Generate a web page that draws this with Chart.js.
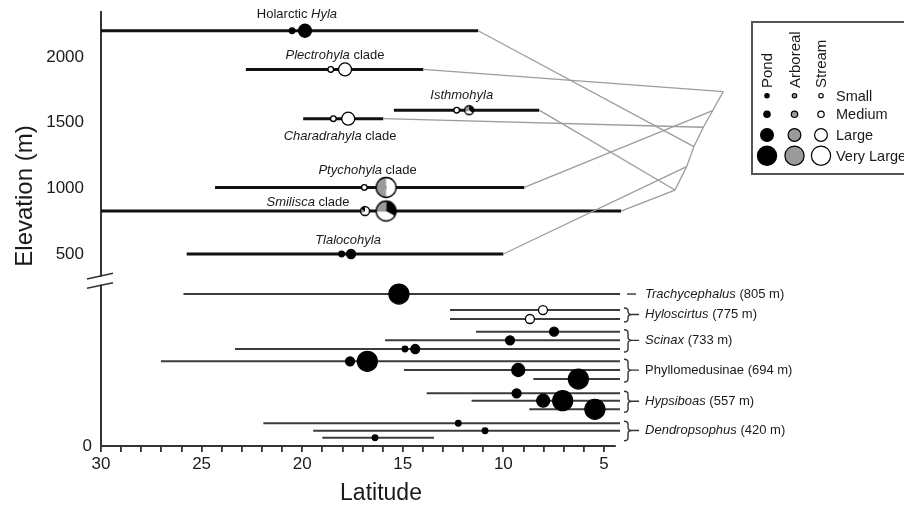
<!DOCTYPE html>
<html><head><meta charset="utf-8">
<script src="https://cdn.jsdelivr.net/npm/chart.js@4.4.1/dist/chart.umd.min.js"></script>
<style>html,body{margin:0;padding:0;background:#fff;}#wrap{width:904px;height:507px;}</style>
</head><body><div id="wrap"><canvas id="c" width="904" height="507"></canvas></div>
<script>
// ================= DATA =================
// Upper panel: clades (elevation scale)
const cladeNames = ['Holarctic *Hyla*', '*Plectrohyla* clade', '*Isthmohyla*', '*Charadrahyla* clade', '*Ptychohyla* clade', '*Smilisca* clade', '*Tlalocohyla*'];
const cladeElevation = [2200, 1905, 1595, 1530, 1007, 827, 500];
const cladeLatNorth = [30, 22.8, 15.44, 19.95, 24.33, 30, 25.74];
const cladeLatSouth = [11.25, 13.98, 8.22, 15.97, 8.96, 4.15, 10.0];
const cladeLabelLat = [20.26, 18.37, 12.07, 18.12, 16.75, 19.71, 17.72];

// Upper panel markers (clade index, latitude, habitat, size class)
const upperMarkerClade = [0, 0, 1, 1, 2, 2, 3, 3, 4, 4, 5, 5, 6, 6];
const upperMarkerLat = [20.5, 19.86, 18.58, 17.87, 12.32, 11.70, 18.45, 17.71, 16.91, 15.83, 16.88, 15.83, 18.04, 17.57];
const upperMarkerHabitat = ['pond', 'pond', 'stream', 'stream', 'stream', 'mixA', 'stream', 'stream', 'stream', 'mixB', 'mixC', 'mixD', 'pond', 'pond'];
const upperMarkerSize = ['S', 'L', 'S', 'L', 'S', 'M', 'S', 'L', 'S', 'VL', 'M', 'VL', 'S', 'M'];

// Connector fan: rank axis points (latitude, elevation units) and clade -> rank target
const rankAxisLat = [1.47, 0.89, 0.53, 0.06, -0.40, -0.93];
const rankAxisElev = [987, 1165, 1317, 1465, 1591, 1736];
const cladeRankTarget = [2, 5, 0, 3, 4, 0, 1];

// Lower panel: genera and their rows
const genusNames = ['*Trachycephalus* (805 m)', '*Hyloscirtus* (775 m)', '*Scinax* (733 m)', 'Phyllomedusinae (694 m)', '*Hypsiboas* (557 m)', '*Dendropsophus* (420 m)'];
const genusMeanElevation = [805, 775, 733, 694, 557, 420];
const rowGenus = [0, 1, 1, 2, 2, 2, 3, 3, 3, 4, 4, 4, 5, 5, 5];
const rowSlot = [17.47, 15.63, 14.6, 13.14, 12.15, 11.15, 9.74, 8.74, 7.7, 6.06, 5.21, 4.22, 2.61, 1.76, 0.95];
const rowLatNorth = [25.9, 12.65, 12.65, 11.36, 15.88, 23.34, 27.02, 14.94, 8.51, 13.81, 11.58, 8.71, 21.93, 19.45, 19.0];
const rowLatSouth = [4.2, 4.2, 4.2, 4.2, 4.2, 4.2, 4.2, 4.2, 4.2, 4.2, 4.2, 4.2, 4.2, 4.2, 13.45];

// Lower panel markers
const lowerMarkerRow = [0, 1, 2, 3, 4, 5, 5, 6, 6, 7, 8, 9, 10, 10, 11, 12, 13, 14];
const lowerMarkerLat = [15.19, 8.03, 8.68, 7.48, 9.67, 14.89, 14.38, 17.62, 16.76, 9.26, 6.27, 9.34, 8.02, 7.05, 5.45, 12.24, 10.91, 16.38];
const lowerMarkerHabitat = ['pond', 'stream', 'stream', 'pond', 'pond', 'pond', 'pond', 'pond', 'pond', 'pond', 'pond', 'pond', 'pond', 'pond', 'pond', 'pond', 'pond', 'pond'];
const lowerMarkerSize = ['VL', 'M', 'M', 'M', 'M', 'S', 'M', 'M', 'VL', 'L', 'VL', 'M', 'L', 'VL', 'VL', 'S', 'S', 'S'];

// Ticks
const xTickValues = [5, 6, 7, 8, 9, 10, 11, 12, 13, 14, 15, 16, 17, 18, 19, 20, 21, 22, 23, 24, 25, 26, 27, 28, 29, 30];
const yTopTickValues = [500, 1000, 1500, 2000];
const yLowTickValues = [0];

// Legend
const legendHabitats = ['Pond', 'Arboreal', 'Stream'];
const legendSizes = ['Small', 'Medium', 'Large', 'Very Large'];

// ================= STYLE =================
const FONT = '"Liberation Sans", Arial, sans-serif';
const fillOf = { pond: '#000000', arboreal: '#9a9a9a', stream: '#ffffff' };
const radiusOf = { S: 2.8, M: 4.5, L: 6.5, VL: 10 };
const pieSegments = {
  mixA: [[0, 130, '#000'], [130, 250, '#fff'], [250, 360, '#9a9a9a']],
  mixB: [[0, 180, '#fff'], [180, 360, '#9a9a9a']],
  mixC: [[0, 240, '#fff'], [240, 300, '#9a9a9a'], [300, 360, '#000']],
  mixD: [[0, 120, '#000'], [120, 270, '#fff'], [270, 360, '#9a9a9a']]
};
const labelDy = [-16, -14, -15, 18, -17, -9, -14];

function makePie(r, segs) {
  const bw = 1.3;
  const s = Math.ceil(2 * r + 2 * bw + 2);
  const cv = document.createElement('canvas');
  cv.width = s; cv.height = s;
  const g = cv.getContext('2d');
  const c = s / 2;
  segs.forEach(([a0, a1, col]) => {
    g.beginPath(); g.moveTo(c, c);
    g.arc(c, c, r, (a0 - 90) * Math.PI / 180, (a1 - 90) * Math.PI / 180);
    g.closePath(); g.fillStyle = col; g.fill();
  });
  g.beginPath(); g.arc(c, c, r, 0, 2 * Math.PI);
  g.lineWidth = bw; g.strokeStyle = '#000'; g.stroke();
  return cv;
}
function markerProps(habs, sizes) {
  return {
    pointStyle: habs.map((h, i) => pieSegments[h] ? makePie(radiusOf[sizes[i]], pieSegments[h]) : 'circle'),
    pointRadius: sizes.map(s => radiusOf[s]),
    pointBackgroundColor: habs.map(h => fillOf[h] || '#fff'),
    pointBorderColor: '#000',
    pointBorderWidth: 1.3
  };
}

// ================= DATASETS =================
const datasets = [];
datasets.push(Object.assign({
  label: 'upper markers', yAxisID: 'yTop', order: 0, showLine: false, clip: false,
  data: upperMarkerLat.map((lat, i) => ({ x: lat, y: cladeElevation[upperMarkerClade[i]] }))
}, markerProps(upperMarkerHabitat, upperMarkerSize)));
datasets.push(Object.assign({
  label: 'lower markers', yAxisID: 'yLow', order: 0, showLine: false, clip: false,
  data: lowerMarkerLat.map((lat, i) => ({ x: lat, y: rowSlot[lowerMarkerRow[i]] }))
}, markerProps(lowerMarkerHabitat, lowerMarkerSize)));

cladeNames.forEach((n, i) => {
  const t = cladeRankTarget[i];
  datasets.push({
    label: 'link ' + i, yAxisID: 'yTop', order: 1, showLine: true, clip: false,
    borderColor: '#9c9c9c', borderWidth: 1.3, pointRadius: 0,
    data: [{ x: cladeLatSouth[i], y: cladeElevation[i] }, { x: rankAxisLat[t], y: rankAxisElev[t] }]
  });
});
datasets.push({
  label: 'rank axis', yAxisID: 'yTop', order: 1, showLine: true, clip: false,
  borderColor: '#9c9c9c', borderWidth: 1.3, pointRadius: 0,
  data: rankAxisLat.map((lat, i) => ({ x: lat, y: rankAxisElev[i] }))
});
cladeNames.forEach((n, i) => {
  datasets.push({
    label: n, yAxisID: 'yTop', order: 2, showLine: true, clip: false,
    borderColor: '#111', borderWidth: 3, pointRadius: 0,
    data: [{ x: cladeLatNorth[i], y: cladeElevation[i] }, { x: cladeLatSouth[i], y: cladeElevation[i] }]
  });
});
rowSlot.forEach((s, i) => {
  datasets.push({
    label: 'row ' + i, yAxisID: 'yLow', order: 2, showLine: true, clip: false,
    borderColor: '#3c3c3c', borderWidth: 2, pointRadius: 0,
    data: [{ x: rowLatNorth[i], y: s }, { x: rowLatSouth[i], y: s }]
  });
});

// ================= PLUGIN (annotations) =================
function drawRich(ctx, markup, x, y, size, align) {
  const parts = markup.split('*').map((t, i) => ({ t, it: i % 2 === 1 })).filter(p => p.t);
  const fontFor = p => (p.it ? 'italic ' : '') + size + 'px ' + FONT;
  let w = 0;
  parts.forEach(p => { ctx.font = fontFor(p); p.w = ctx.measureText(p.t).width; w += p.w; });
  let cx = align === 'center' ? x - w / 2 : x;
  ctx.textAlign = 'left'; ctx.textBaseline = 'middle';
  parts.forEach(p => { ctx.font = fontFor(p); ctx.fillText(p.t, cx, y); cx += p.w; });
}

const annot = {
  id: 'annot',
  afterDraw(chart) {
    const ctx = chart.ctx;
    const xs = chart.scales.x, yT = chart.scales.yTop, yL = chart.scales.yLow;
    ctx.save();
    ctx.fillStyle = '#1a1a1a';
    // clade labels
    cladeNames.forEach((n, i) => {
      drawRich(ctx, n, xs.getPixelForValue(cladeLabelLat[i]), yT.getPixelForValue(cladeElevation[i]) + labelDy[i], 13, 'center');
    });
    // braces and genus labels
    ctx.strokeStyle = '#333'; ctx.lineWidth = 1.4;
    const bx = xs.getPixelForValue(4.2);
    genusNames.forEach((g, gi) => {
      const rows = rowGenus.map((v, i) => v === gi ? i : -1).filter(i => i >= 0);
      const yA = yL.getPixelForValue(rowSlot[rows[0]]);
      const yB = yL.getPixelForValue(rowSlot[rows[rows.length - 1]]);
      const mid = (yA + yB) / 2;
      ctx.beginPath();
      if (rows.length === 1) {
        ctx.moveTo(bx + 7, mid); ctx.lineTo(bx + 16, mid);
      } else {
        const top = yA - 2, bot = yB + 3, sx = bx + 8, x0 = bx + 4, tip = bx + 12;
        ctx.moveTo(x0, top);
        ctx.quadraticCurveTo(sx, top, sx, top + 3);
        ctx.lineTo(sx, mid - 3);
        ctx.quadraticCurveTo(sx, mid, tip, mid);
        ctx.quadraticCurveTo(sx, mid, sx, mid + 3);
        ctx.lineTo(sx, bot - 3);
        ctx.quadraticCurveTo(sx, bot, x0, bot);
        ctx.moveTo(tip, mid); ctx.lineTo(bx + 19, mid);
      }
      ctx.stroke();
      drawRich(ctx, g, bx + 25, mid, 13, 'left');
    });
    // axis break
    const b = yT.bottom, ax = xs.left;
    const l1 = x => b - 4 - (x - (ax - 14)) * 5.7 / 26;
    const l2 = x => b + 5.3 - (x - (ax - 14)) * 5.6 / 26;
    ctx.fillStyle = '#fff';
    ctx.beginPath();
    ctx.moveTo(ax - 5, l1(ax - 5) + 0.8); ctx.lineTo(ax + 5, l1(ax + 5) + 0.8);
    ctx.lineTo(ax + 5, l2(ax + 5) - 0.8); ctx.lineTo(ax - 5, l2(ax - 5) - 0.8);
    ctx.closePath(); ctx.fill();
    ctx.strokeStyle = '#333'; ctx.lineWidth = 1.5;
    ctx.beginPath();
    ctx.moveTo(ax - 14, l1(ax - 14)); ctx.lineTo(ax + 12, l1(ax + 12));
    ctx.moveTo(ax - 14, l2(ax - 14)); ctx.lineTo(ax + 12, l2(ax + 12));
    ctx.stroke();
    // legend
    ctx.strokeStyle = '#555'; ctx.lineWidth = 2;
    ctx.strokeRect(752, 22, 170, 152);
    const colX = [767, 794.5, 821], rowY = [95.7, 114.3, 135, 155.7], legR = [2.2, 3.2, 6.4, 9.6];
    const legFill = ['#000', '#9a9a9a', '#fff'];
    ctx.fillStyle = '#1a1a1a';
    legendHabitats.forEach((h, c) => {
      ctx.save(); ctx.translate(colX[c], 88); ctx.rotate(-Math.PI / 2);
      ctx.font = '15px ' + FONT; ctx.textAlign = 'left'; ctx.textBaseline = 'middle';
      ctx.fillText(h, 0, 1); ctx.restore();
    });
    legendSizes.forEach((s, r) => {
      legendHabitats.forEach((h, c) => {
        ctx.beginPath(); ctx.arc(colX[c], rowY[r], legR[r], 0, Math.PI * 2);
        ctx.fillStyle = legFill[c]; ctx.fill();
        ctx.lineWidth = 1.2; ctx.strokeStyle = '#000'; ctx.stroke();
      });
      ctx.fillStyle = '#1a1a1a'; ctx.font = '14.5px ' + FONT; ctx.textAlign = 'left'; ctx.textBaseline = 'middle';
      ctx.fillText(s, 836, rowY[r] + 1);
    });
    // axis titles
    ctx.fillStyle = '#1a1a1a';
    ctx.font = '23px ' + FONT; ctx.textAlign = 'center'; ctx.textBaseline = 'middle';
    ctx.fillText('Latitude', 381, 494);
    ctx.font = '24px ' + FONT;
    ctx.save(); ctx.translate(25, 196); ctx.rotate(-Math.PI / 2);
    ctx.fillText('Elevation (m)', 0, 0); ctx.restore();
    ctx.restore();
  }
};

// ================= CHART =================
const tickFont = { family: FONT, size: 17 };
new Chart(document.getElementById('c'), {
  type: 'scatter',
  data: { datasets },
  options: {
    responsive: false, animation: false, events: [],
    layout: { padding: { top: 12, right: 289, left: 0, bottom: 0 } },
    plugins: { legend: { display: false }, tooltip: { enabled: false } },
    scales: {
      x: {
        type: 'linear', reverse: true, min: 4.45, max: 30, position: 'bottom',
        afterBuildTicks: s => { s.ticks = xTickValues.map(v => ({ value: v })); },
        afterFit: s => { s.height = 61; s.paddingLeft = 0; s.paddingRight = 0; },
        ticks: { autoSkip: false, maxRotation: 0, minRotation: 0, padding: 2, color: '#1a1a1a', font: tickFont,
          callback: v => (v % 5 === 0 ? String(v) : '') },
        grid: { display: true, drawOnChartArea: false, drawTicks: true, tickLength: 6, color: '#333', lineWidth: 1.8 },
        border: { display: true, color: '#333', width: 2 }
      },
      yLow: {
        type: 'linear', min: 0, max: 18.74, position: 'left', stack: 'y', stackWeight: 163,
        afterBuildTicks: s => { s.ticks = yLowTickValues.map(v => ({ value: v })); },
        afterFit: s => { s.width = 101; s.paddingTop = 0; s.paddingBottom = 0; },
        ticks: { padding: 9, color: '#1a1a1a', font: tickFont, callback: v => String(v) },
        grid: { display: false, drawTicks: false },
        border: { display: true, color: '#333', width: 2 }
      },
      yTop: {
        type: 'linear', min: 279.1, max: 2342.6, position: 'left', stack: 'y', stackWeight: 271,
        afterBuildTicks: s => { s.ticks = yTopTickValues.map(v => ({ value: v })); },
        afterFit: s => { s.width = 101; s.paddingTop = 0; s.paddingBottom = 0; },
        ticks: { padding: 17, color: '#1a1a1a', font: tickFont, callback: v => String(v) },
        grid: { display: false, drawTicks: false },
        border: { display: true, color: '#333', width: 2 }
      }
    }
  },
  plugins: [annot]
});
</script>
</body></html>
